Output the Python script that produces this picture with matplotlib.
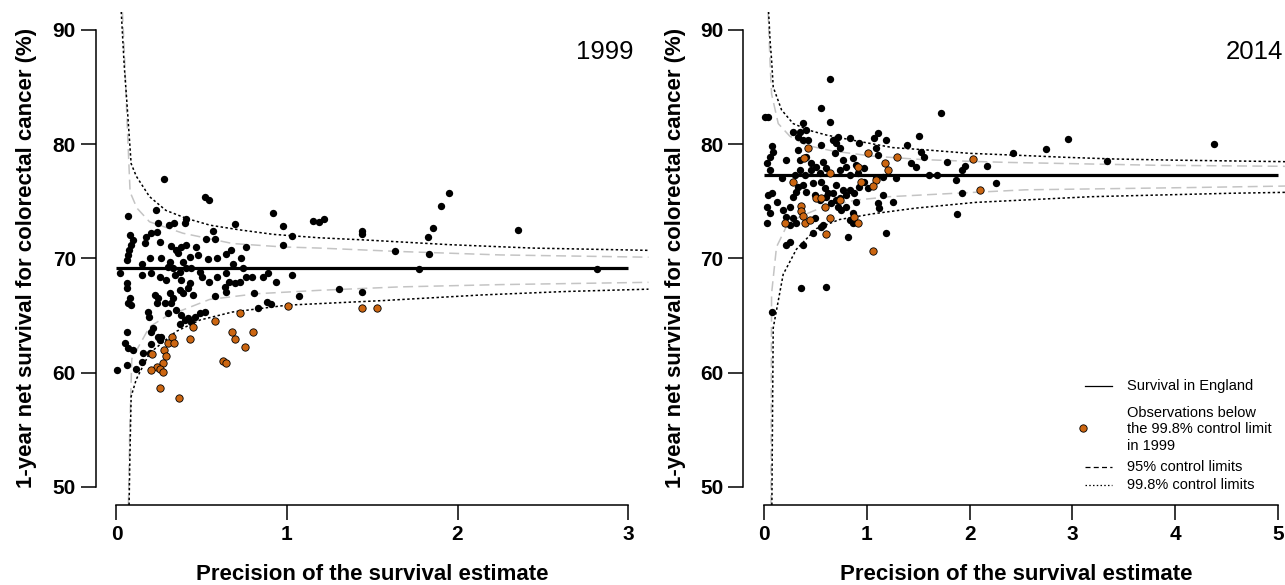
import matplotlib
matplotlib.use("Agg")
import matplotlib.pyplot as plt
from matplotlib.lines import Line2D

plt.rcParams['font.family'] = ['Liberation Sans', 'DejaVu Sans']

W, H = 1285, 585

# ---- 1999 panel -------------------------------------------------------
target_1999 = 69.16
black_1999_x = [0.278, 0.518, 0.544, 0.916, 0.068, 0.231, 1.153, 1.19, 1.217, 0.974,
                1.03, 0.974, 0.694, 0.407, 0.40, 0.336, 0.309, 0.244, 0.567, 0.524,
                0.577, 0.762, 0.674, 0.641, 0.729, 0.587, 0.538, 0.684, 0.743,
                0.078, 0.098, 0.088, 0.074, 0.068, 0.059,
                0.176, 0.205, 0.235, 0.254, 0.166,
                0.318, 0.352, 0.381, 0.41, 0.469,
                0.479, 0.43, 0.391, 0.362,
                0.196, 0.264, 0.147, 0.313,
                0.303, 0.332, 0.407, 0.44, 0.489,
                0.02, 0.147, 0.205,
                0.254, 0.293, 0.342, 0.371,
                0.503, 0.544, 0.587, 0.645, 0.66,
                0.762, 0.792, 0.86, 0.89, 0.934, 1.032,
                0.694, 0.723, 0.635, 0.645,
                0.059, 0.059, 0.078, 0.088, 0.068,
                0.225, 0.244, 0.235, 0.313, 0.332, 0.283, 0.322,
                0.371, 0.391, 0.43, 0.42, 0.45, 0.381,
                0.577, 0.807, 0.88, 0.909, 1.069, 0.83,
                0.186, 0.192, 0.303, 0.352, 0.381, 0.4, 0.42,
                0.459, 0.489, 0.518, 0.44,
                0.371, 0.205, 0.244, 0.215, 0.059,
                0.049, 0.068, 0.098, 0.205, 0.254, 0.264,
                0.156, 0.147, 0.117, 0.059, 0.004, 0.196,
                1.442, 1.442, 1.95, 1.901, 1.859, 1.825, 2.357, 1.633, 1.835, 1.774,
                2.82, 1.307, 1.442]
black_1999_y = [76.95, 75.4, 75.1, 74.0, 73.75, 74.24, 73.28, 73.2, 73.48, 72.87,
                72.0, 71.15, 73.0, 73.45, 73.07, 73.13, 72.93, 73.07, 72.43, 71.73,
                71.7, 71.03, 70.74, 70.36, 70.0, 70.0, 69.92, 69.48, 69.19,
                72.05, 71.61, 71.18, 70.74, 70.3, 69.86,
                71.9, 72.2, 72.35, 71.47, 71.32,
                71.09, 70.74, 71.03, 71.18, 71.03,
                70.3, 70.15, 69.72, 70.45,
                70.0, 70.0, 69.5, 69.72,
                69.28, 69.13, 69.13, 69.19, 68.84,
                68.7, 68.55, 68.7,
                68.4, 68.1, 68.55, 68.84,
                68.4, 67.9, 68.4, 68.7, 67.97,
                68.4, 68.4, 68.4, 68.7, 67.9, 68.55,
                67.82, 67.97, 67.53, 67.09,
                67.82, 67.38, 66.5, 65.92, 66.07,
                66.8, 66.5, 66.07, 66.94, 66.5, 66.07, 66.07,
                67.24, 66.94, 67.82, 67.38, 66.8, 68.1,
                66.71, 66.94, 66.2, 66.0, 66.71, 65.63,
                65.34, 64.9, 65.2, 65.48, 65.05, 64.61, 64.75,
                64.9, 65.2, 65.34, 64.46,
                64.23, 63.59, 63.15, 63.88, 63.59,
                62.57, 62.13, 61.98, 62.51, 62.86, 63.15,
                61.69, 60.96, 60.29, 60.67, 60.23, 61.69,
                72.4, 72.14, 75.76, 74.62, 72.64, 71.88, 72.49, 70.65, 70.39, 69.05,
                69.05, 67.3, 67.03]
orange_1999_x = [1.007, 0.727, 0.577, 0.446, 0.434, 0.323, 0.303, 0.336, 0.679, 0.694,
                 0.801, 0.753, 0.626, 0.645, 0.28, 0.293, 0.211, 0.27, 0.235, 0.205,
                 0.254, 0.27, 0.254, 0.368, 1.442, 1.526]
orange_1999_y = [65.86, 65.19, 64.55, 63.97, 62.94, 63.09, 62.62, 62.62, 63.59, 62.94,
                 63.59, 62.22, 61.02, 60.87, 61.98, 61.49, 61.6, 60.87, 60.52, 60.23,
                 60.29, 60.03, 58.62, 57.75, 65.68, 65.68]

up99_1999_x = [0.028, 0.045, 0.06, 0.086, 0.116, 0.194, 0.29, 0.41, 0.55, 0.72, 0.92, 1.19, 1.47, 1.95, 2.44, 3.12]
up99_1999_y = [91.6, 87.0, 83.9, 78.3, 77.2, 75.4, 74.2, 73.5, 72.9, 72.5, 72.1, 71.8, 71.6, 71.2, 70.9, 70.7]
up95_1999_x = [0.035, 0.047, 0.065, 0.08, 0.12, 0.194, 0.39, 0.68, 0.975, 1.19, 1.66, 2.25, 3.12]
up95_1999_y = [91.6, 87.8, 81.0, 75.8, 74.4, 73.2, 72.2, 71.3, 71.0, 70.9, 70.6, 70.3, 70.1]
lo99_1999_x = [0.074, 0.078, 0.086, 0.116, 0.194, 0.35, 0.49, 0.68, 1.0, 1.56, 2.15, 2.64, 3.12]
lo99_1999_y = [48.4, 52.0, 57.9, 59.4, 61.7, 63.6, 64.6, 65.3, 65.9, 66.3, 66.8, 67.1, 67.3]
lo95_1999_x = [0.07, 0.078, 0.09, 0.194, 0.29, 0.546, 0.82, 1.19, 1.66, 2.25, 3.12]
lo95_1999_y = [48.4, 55.0, 61.2, 64.0, 64.9, 66.4, 66.9, 67.2, 67.5, 67.7, 67.9]

# ---- 2014 panel -------------------------------------------------------
target_2014 = 77.3
black_2014_x = [0.638, 0.551, 0.638, 1.718, 0.01, 0.042,
                0.38, 0.284, 0.348, 0.413, 0.332, 0.38, 0.429,
                0.558, 0.67, 0.719, 0.703, 0.735, 0.687,
                0.832, 0.928, 1.074, 1.106, 1.186, 1.09, 1.106,
                1.509, 1.396, 1.525, 1.557, 1.783, 1.96, 1.428, 1.477,
                0.074, 0.09, 0.058, 0.026, 0.058, 0.219, 0.332, 0.413, 0.348,
                0.461, 0.509, 0.574, 0.606, 0.542, 0.461,
                0.767, 0.8, 0.735, 0.864, 0.896, 0.977, 0.832, 0.912,
                0.348, 0.396, 0.3,
                0.171, 0.332, 0.316, 0.38, 0.413, 0.477,
                0.558, 0.59, 0.622, 0.703, 0.67, 0.767, 0.8, 0.735,
                0.832, 0.88, 0.928, 0.977, 1.009, 1.09, 1.154, 1.283,
                0.042, 0.074, 0.026, 0.058, 0.026, 0.122, 0.187, 0.251, 0.284,
                0.219, 0.284, 0.251, 0.316,
                0.493, 0.542, 0.606, 0.654, 0.703, 0.719, 0.751, 0.8, 0.864, 0.896,
                0.493, 0.574, 0.832, 0.864, 1.106, 1.154, 1.251, 1.122,
                0.477, 0.558, 0.816, 1.186, 1.879, 1.928,
                0.219, 0.251, 0.38,
                0.364, 0.6, 0.074,
                1.606, 1.686, 1.863,
                2.427, 2.743, 2.953, 3.337, 4.378, 2.17, 1.928, 2.253]
black_2014_y = [85.68, 83.2, 81.94, 82.7, 82.35, 82.35,
                81.82, 81.1, 81.1, 81.24, 80.66, 80.37, 80.37,
                79.93, 80.37, 80.66, 80.07, 79.63, 79.2,
                80.57, 80.07, 80.51, 80.95, 80.37, 79.63, 79.05,
                80.71, 79.93, 79.34, 78.9, 78.47, 78.09, 78.32, 78.03,
                79.84, 79.34, 78.9, 78.32, 77.74, 78.61, 79.49, 78.9, 78.61,
                78.32, 78.03, 78.47, 77.88, 77.45, 77.74,
                78.61, 78.03, 77.74, 78.76, 78.17, 77.88, 77.3, 77.45,
                77.74, 77.3, 77.3,
                77.01, 76.28, 75.84, 76.42, 75.84, 76.57,
                76.72, 76.13, 75.69, 76.42, 75.69, 75.99, 75.55, 75.26,
                75.99, 75.69, 76.28, 76.72, 76.13, 77.01, 77.16, 77.01,
                75.55, 75.69, 74.53, 73.94, 73.07, 74.96, 74.24, 74.53, 75.4,
                73.65, 73.51, 72.92, 73.07,
                75.55, 75.11, 75.4, 74.82, 75.11, 74.53, 74.24, 74.53, 73.94, 74.96,
                73.51, 72.92, 73.36, 73.07, 74.82, 75.55, 74.96, 74.38,
                72.19, 72.78, 71.9, 72.25, 73.88, 75.75,
                71.17, 71.46, 71.17,
                67.43, 67.52, 65.33,
                77.3, 77.3, 76.86,
                79.2, 79.58, 80.46, 78.56, 79.99, 78.12, 77.74, 76.63]
orange_2014_x = [0.429, 0.39, 1.009, 1.293, 1.18, 1.202, 0.912, 0.638, 0.284, 0.945,
                 1.09, 1.057, 0.509, 0.558, 0.59, 0.735, 0.364, 0.364, 0.38, 0.396,
                 0.445, 0.203, 0.638, 0.6, 0.88, 0.912, 1.057, 2.034, 2.102]
orange_2014_y = [79.69, 78.82, 79.2, 78.85, 78.32, 77.74, 77.97, 77.45, 76.72, 76.72,
                 76.86, 76.34, 75.26, 75.26, 74.53, 75.11, 74.58, 74.18, 73.71, 73.13,
                 73.36, 73.13, 73.51, 72.13, 73.59, 73.13, 70.65, 78.7, 75.99]

up99_2014_x = [0.045, 0.06, 0.074, 0.09, 0.171, 0.284, 0.445, 0.606, 0.832, 1.251, 1.573, 1.992, 2.54, 2.927, 3.411, 3.991, 4.797, 5.2]
up99_2014_y = [91.6, 89.0, 87.4, 85.0, 83.0, 81.8, 81.2, 80.8, 80.4, 79.7, 79.5, 79.2, 79.0, 78.85, 78.7, 78.6, 78.5, 78.45]
up95_2014_x = [0.04, 0.06, 0.074, 0.139, 0.251, 0.413, 0.67, 1.057, 1.541, 1.992, 2.379, 3.83, 5.2]
up95_2014_y = [91.6, 87.0, 84.4, 81.8, 80.7, 79.9, 79.4, 78.95, 78.65, 78.5, 78.4, 78.15, 78.05]
lo99_2014_x = [0.077, 0.083, 0.09, 0.187, 0.316, 0.509, 0.735, 1.057, 1.477, 2.057, 3.185, 4.54, 5.2]
lo99_2014_y = [48.4, 56.0, 63.9, 68.6, 70.8, 72.6, 73.4, 73.9, 74.4, 74.9, 75.4, 75.7, 75.8]
lo95_2014_x = [0.068, 0.071, 0.074, 0.122, 0.219, 0.348, 0.574, 0.896, 1.219, 1.863, 2.54, 4.15, 5.2]
lo95_2014_y = [48.4, 58.0, 66.9, 71.0, 72.8, 73.65, 74.5, 75.1, 75.4, 75.7, 76.0, 76.2, 76.35]

y_ticks = [50, 60, 70, 80, 90]
xlabel = "Precision of the survival estimate"
ylabel = "1-year net survival for colorectal cancer (%)"
ORANGE = '#CC6611'
GREY = '#C4C4C4'
DOT = (0, (1.6, 1.6))
DASH = (0, (6.5, 3.5))


def fx(px):
    return px / W


def fy(py):
    return 1 - py / H


fig = plt.figure(figsize=(W / 100, H / 100), dpi=100)


def panel(left_px, right_px, xmax, target, bx, by, ox, oy, limits):
    ax = fig.add_axes([fx(left_px), fy(505), (right_px - left_px) / W, (505 - 11.7) / H])
    pad = 0.04 * xmax
    ax.set_xlim(-pad, xmax + pad)
    ax.set_ylim(48.4, 91.6)
    (u99x, u99y), (u95x, u95y), (l99x, l99y), (l95x, l95y) = limits
    ax.plot(u95x, u95y, color=GREY, lw=1.1, ls=DASH)
    ax.plot(l95x, l95y, color=GREY, lw=1.1, ls=DASH)
    ax.plot(u99x, u99y, color='black', lw=1.1, ls=DOT)
    ax.plot(l99x, l99y, color='black', lw=1.1, ls=DOT)
    ax.plot([0, xmax], [target, target], color='black', lw=2.3, solid_capstyle='butt')
    ax.scatter(bx, by, s=28, c='black', linewidths=0, zorder=3)
    ax.scatter(ox, oy, s=28, c=ORANGE, edgecolors='black', linewidths=0.6, zorder=4)
    for s in ['top', 'right']:
        ax.spines[s].set_visible(False)
    ax.spines['left'].set_bounds(50, 90)
    ax.spines['bottom'].set_bounds(0, xmax)
    for s in ['left', 'bottom']:
        ax.spines[s].set_linewidth(1.1)
    ax.set_xticks(range(0, xmax + 1))
    ax.set_yticks(y_ticks)
    ax.tick_params(length=10.5, width=1.1, pad=4, labelsize=15)
    for lab in ax.get_xticklabels() + ax.get_yticklabels():
        lab.set_fontweight('bold')
    return ax


ax1 = panel(96, 648.5, 3, target_1999, black_1999_x, black_1999_y,
            orange_1999_x, orange_1999_y,
            [(up99_1999_x, up99_1999_y), (up95_1999_x, up95_1999_y),
             (lo99_1999_x, lo99_1999_y), (lo95_1999_x, lo95_1999_y)])
ax2 = panel(743.4, 1298.6, 5, target_2014, black_2014_x, black_2014_y,
            orange_2014_x, orange_2014_y,
            [(up99_2014_x, up99_2014_y), (up95_2014_x, up95_2014_y),
             (lo99_2014_x, lo99_2014_y), (lo95_2014_x, lo95_2014_y)])

fig.text(fx(634), fy(52), '1999', ha='right', va='center', fontsize=18.5)
fig.text(fx(1283), fy(52), '2014', ha='right', va='center', fontsize=18.5)

for cx in (372, 1016):
    fig.text(fx(cx), fy(574), xlabel, ha='center', va='center', fontsize=16, fontweight='bold')
for cx in (27, 675):
    fig.text(fx(cx), fy(258), ylabel, ha='center', va='center', rotation=90,
             fontsize=16, fontweight='bold')

# legend (drawn by hand, R style)
lx0, lx1, tx = 1085, 1112, 1127
fig.add_artist(Line2D([fx(lx0), fx(lx1)], [fy(386)] * 2, color='black', lw=0.9))
fig.add_artist(Line2D([fx(1083)], [fy(428)], marker='o', ms=5.3, mfc=ORANGE, mec='black', mew=0.6, ls='none'))
fig.add_artist(Line2D([fx(lx0), fx(lx1)], [fy(467)] * 2, color='black', lw=0.9, ls=(0, (4, 2.6))))
fig.add_artist(Line2D([fx(lx0), fx(lx1)], [fy(485)] * 2, color='black', lw=0.9, ls=(0, (1.2, 1.8))))
leg_rows = [(386, "Survival in England"), (413, "Observations below"),
            (429, "the 99.8% control limit"), (446, "in 1999"),
            (467, "95% control limits"), (485, "99.8% control limits")]
for py, txt in leg_rows:
    fig.text(fx(tx), fy(py), txt, ha='left', va='center', fontsize=10.5)

fig.savefig('out.png', dpi=100)
